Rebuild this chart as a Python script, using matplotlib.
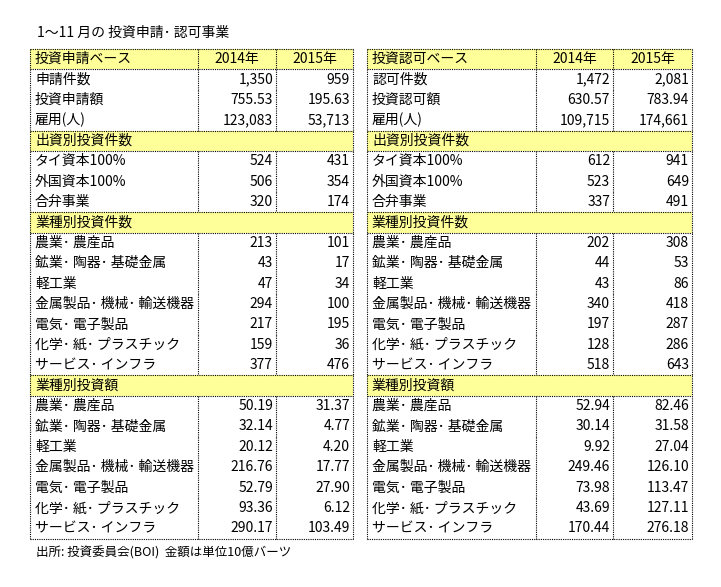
import matplotlib
matplotlib.use("Agg")
import matplotlib.pyplot as plt
from matplotlib.patches import Rectangle

plt.rcParams["font.family"] = ["Noto Sans CJK JP", "DejaVu Sans"]

TITLE = "1～11 月の 投資申請･ 認可事業"
FOOT = "出所: 投資委員会(BOI)  金額は単位10億バーツ"
YEARS = ["2014年", "2015年"]

IND = ["農業･ 農産品", "鉱業･ 陶器･ 基礎金属", "軽工業", "金属製品･ 機械･ 輸送機器",
       "電気･ 電子製品", "化学･ 紙･ プラスチック", "サービス･ インフラ"]
CAP = ["タイ資本100%", "外国資本100%", "合弁事業"]

# left table: applications
L_HEAD = "投資申請ベース"
L_BASE = ["申請件数", "投資申請額", "雇用(人)"]
L_BASE_V = [("1,350", "959"), ("755.53", "195.63"), ("123,083", "53,713")]
L_CAP_V = [("524", "431"), ("506", "354"), ("320", "174")]
L_CNT_V = [("213", "101"), ("43", "17"), ("47", "34"), ("294", "100"),
           ("217", "195"), ("159", "36"), ("377", "476")]
L_AMT_V = [("50.19", "31.37"), ("32.14", "4.77"), ("20.12", "4.20"), ("216.76", "17.77"),
           ("52.79", "27.90"), ("93.36", "6.12"), ("290.17", "103.49")]

# right table: approvals
R_HEAD = "投資認可ベース"
R_BASE = ["認可件数", "投資認可額", "雇用(人)"]
R_BASE_V = [("1,472", "2,081"), ("630.57", "783.94"), ("109,715", "174,661")]
R_CAP_V = [("612", "941"), ("523", "649"), ("337", "491")]
R_CNT_V = [("202", "308"), ("44", "53"), ("43", "86"), ("340", "418"),
           ("197", "287"), ("128", "286"), ("518", "643")]
R_AMT_V = [("52.94", "82.46"), ("30.14", "31.58"), ("9.92", "27.04"), ("249.46", "126.10"),
           ("73.98", "113.47"), ("43.69", "127.11"), ("170.44", "276.18")]

SECTIONS = ["出資別投資件数", "業種別投資件数", "業種別投資額"]

fig = plt.figure(figsize=(7.21, 5.87), dpi=100)
ax = fig.add_axes([0, 0, 1, 1])
ax.set_xlim(0, 721); ax.set_ylim(587, 0); ax.axis("off")

Y0, RH = 49, 20.4
YEL = "#ffff99"
FS = 10
dot = dict(color="black", lw=0.8, ls=(0, (1, 1)))


def table(x0, x1, x2, x3, head, base, base_v, cap_v, cnt_v, amt_v):
    rows = [("H", head, YEARS)]
    rows += [("D", n, v) for n, v in zip(base, base_v)]
    rows += [("S", SECTIONS[0], None)] + [("D", n, v) for n, v in zip(CAP, cap_v)]
    rows += [("S", SECTIONS[1], None)] + [("D", n, v) for n, v in zip(IND, cnt_v)]
    rows += [("S", SECTIONS[2], None)] + [("D", n, v) for n, v in zip(IND, amt_v)]
    for i, (kind, name, vals) in enumerate(rows):
        top = Y0 + i * RH
        yc = top + RH / 2
        if kind in "HS":
            ax.add_patch(Rectangle((x0, top), x3 - x0, RH, fc=YEL, ec="none"))
            ax.plot([x0, x3], [top, top], **dot)
            ax.plot([x0, x3], [top + RH, top + RH], **dot)
        ax.text(x0 + 5, yc, name, fontsize=FS, va="center", ha="left")
        if kind == "H":
            ax.text((x1 + x2) / 2, yc, vals[0], fontsize=FS, va="center", ha="center")
            ax.text((x2 + x3) / 2, yc, vals[1], fontsize=FS, va="center", ha="center")
        elif kind == "D":
            ax.text(x2 - 3, yc, vals[0], fontsize=FS, va="center", ha="right")
            ax.text(x3 - 3, yc, vals[1], fontsize=FS, va="center", ha="right")
        if kind != "S":
            for xv in (x1, x2):
                ax.plot([xv, xv], [top, top + RH], **dot)
    bot = Y0 + len(rows) * RH
    ax.plot([x0, x0], [Y0, bot], **dot)
    ax.plot([x3, x3], [Y0, bot], **dot)
    ax.plot([x0, x3], [bot, bot], **dot)


table(30, 198, 276, 353, L_HEAD, L_BASE, L_BASE_V, L_CAP_V, L_CNT_V, L_AMT_V)
table(367, 536, 613, 692, R_HEAD, R_BASE, R_BASE_V, R_CAP_V, R_CNT_V, R_AMT_V)

ax.text(37, 33, TITLE, fontsize=FS, va="center", ha="left")
ax.text(36, 553, FOOT, fontsize=9, va="center", ha="left")

fig.savefig("out.png", dpi=100, facecolor="white")
